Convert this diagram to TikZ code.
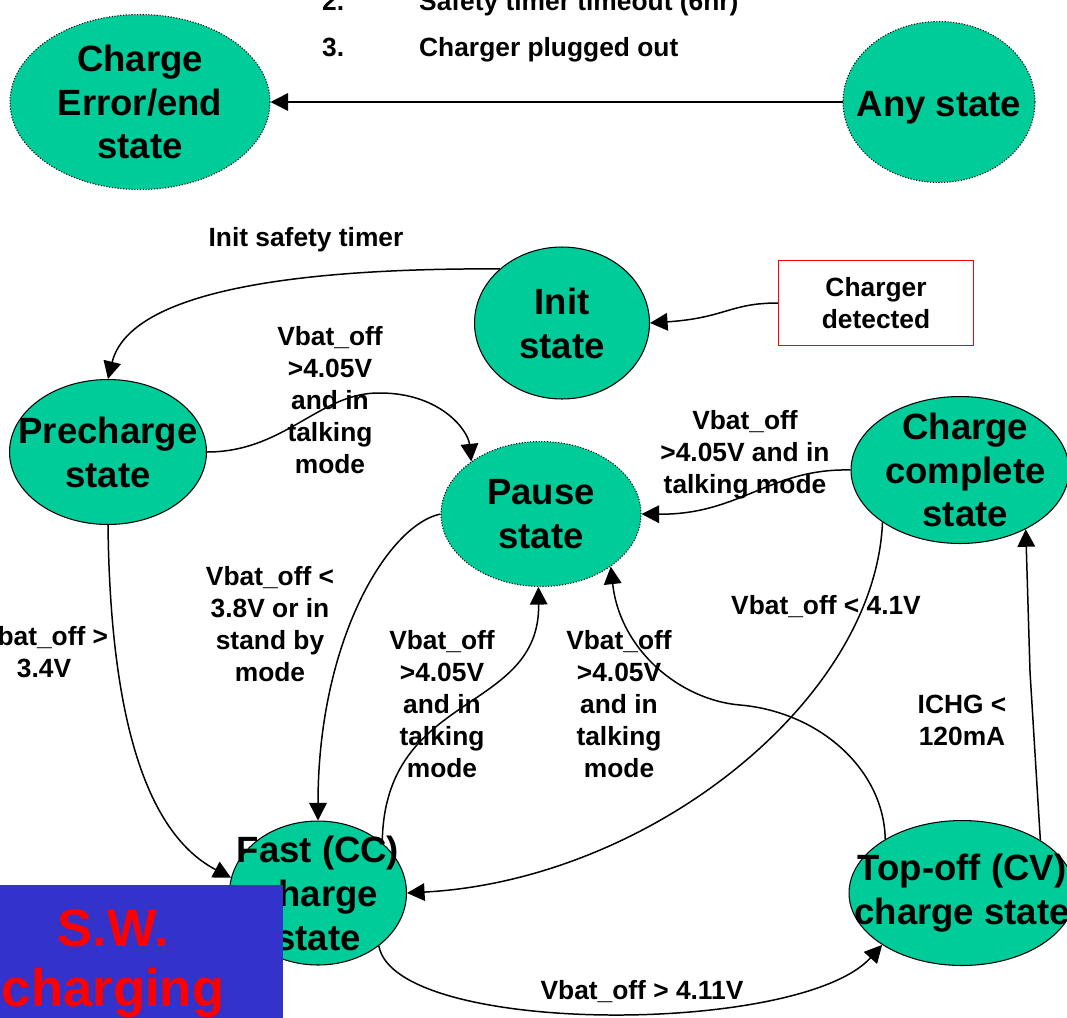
\documentclass[tikz,border=0pt]{standalone}
\usepackage{fontspec}
\setmainfont{Liberation Sans}
\usetikzlibrary{shapes.geometric,arrows.meta}
\definecolor{stgreen}{HTML}{00CC99}
\definecolor{swblue}{HTML}{3333CC}

\begin{document}
\begin{tikzpicture}[x=0.02cm,y=-0.02cm,
	>={Triangle[length=10pt,width=10pt]},
	stnode/.style={ellipse,draw,fill=stgreen,line width=0.6pt,inner sep=0pt},
	dotst/.style={stnode,densely dotted},
	sttext/.style={font=\fontsize{20.8}{25}\selectfont\bfseries,align=center},
	cond/.style={font=\fontsize{15}{18.2}\selectfont\bfseries,align=center},
	conn/.style={->,line width=0.85pt}]
	\useasboundingbox (0,0) rectangle (1067,1017);

	\node (num2) [cond,anchor=base west] at (316,11) {2.};
	\node (item2) [cond,anchor=base west] at (413,11) {Safety timer timeout (6hr)};
	\node (num3) [cond,anchor=base west] at (316,57) {3.};
	\node (item3) [cond,anchor=base west] at (413,57) {Charger plugged out};

	\node (error) [dotst,minimum width=5.2cm,minimum height=3.5cm,label={[sttext]center:Charge\\Error/end\\state}] at (140,102) {};
	\node (any) [dotst,minimum width=3.84cm,minimum height=3.22cm,label={[sttext,yshift=-3pt]center:Any state}] at (939,102) {};
	\node (init) [stnode,minimum width=3.5cm,minimum height=3.04cm,label={[sttext]center:Init\\state}] at (562,323) {};
	\node (charger) [draw=red,line width=0.8pt,fill=white,minimum width=3.9cm,minimum height=1.7cm,cond] at (876,303) {Charger\\detected};
	\node (precharge) [stnode,minimum width=3.94cm,minimum height=2.9cm,label={[sttext]center:Precharge\\state}] at (108,452) {};
	\node (pause) [dotst,minimum width=4cm,minimum height=2.9cm,label={[sttext]center:Pause\\state}] at (541,514) {};
	\node (complete) [stnode,minimum width=4.36cm,minimum height=2.94cm,label={[sttext,xshift=3pt]center:Charge\\complete\\state}] at (960,470) {};
	\node (fast) [stnode,minimum width=3.54cm,minimum height=2.88cm,label={[sttext]center:Fast (CC)\\charge\\state}] at (318,893) {};
	\node (topoff) [stnode,minimum width=4.52cm,minimum height=2.9cm,label={[sttext]center:Top-off (CV)\\charge state}] at (962,893) {};

	\path[conn] (any) edge (error);
	\draw[conn] (init.139) .. controls (300,268) and (130,290) .. (precharge.north);
	\draw[conn] (charger.west) .. controls (730,303) and (725,318) .. (init.east);
	\draw[conn] (precharge.east) .. controls (285,452) and (320,392) .. (380,393) .. controls (440,393) and (468,430) .. (pause.143);
	\draw[conn] (complete.west) .. controls (770,468) and (740,515) .. (pause.east);
	\draw[conn] (pause.west) .. controls (388,525) and (318,640) .. (fast.north);
	\draw[conn] (fast.38) .. controls (384,690) and (540,715) .. (pause.268);
	\draw[conn] (topoff.145) .. controls (884,770) and (820,712) .. (740,705) .. controls (680,700) and (620,650) .. (pause.323);
	\draw[conn] (complete.214) .. controls (875,700) and (650,880) .. (fast.east);
	\draw[conn] (precharge.south) .. controls (110,700) and (140,830) .. (fast.170);
	\draw[conn] (fast.319) .. controls (395,1036) and (800,1036) .. (topoff.213);
	\draw[conn] (topoff.34) -- (1030,672) -- (complete.318);

	\node (lbtimer) [cond] at (306,240) {Init safety timer};
	\node (lbprepause) [cond] at (330,400) {Vbat\_off\\>4.05V\\and in\\talking\\mode};
	\node (lbcomppause) [cond] at (745,455) {Vbat\_off\\>4.05V and in\\talking mode};
	\node (lbpausefast) [cond] at (270,624) {Vbat\_off <\\3.8V or in\\stand by\\mode};
	\node (lbprefast) [cond] at (44,652) {Vbat\_off >\\3.4V};
	\node (lbfastpause) [cond] at (442,704) {Vbat\_off\\>4.05V\\and in\\talking\\mode};
	\node (lbtoppause) [cond] at (619,704) {Vbat\_off\\>4.05V\\and in\\talking\\mode};
	\node (lbcompfast) [cond] at (826,607) {Vbat\_off < 4.1V};
	\node (lbtopcomp) [cond] at (962,720) {ICHG <\\120mA};
	\node (lbfasttop) [cond] at (642,992) {Vbat\_off > 4.11V};

	\node (swbox) [fill=swblue,anchor=north west,inner sep=0pt,minimum width=5.66cm,minimum height=3.3cm] at (0,885) {};
	\node (swtext) [font=\fontsize{30}{34}\selectfont\bfseries,text=red,align=center] at (113,964) {S.W.\\charging};
\end{tikzpicture}
\end{document}
